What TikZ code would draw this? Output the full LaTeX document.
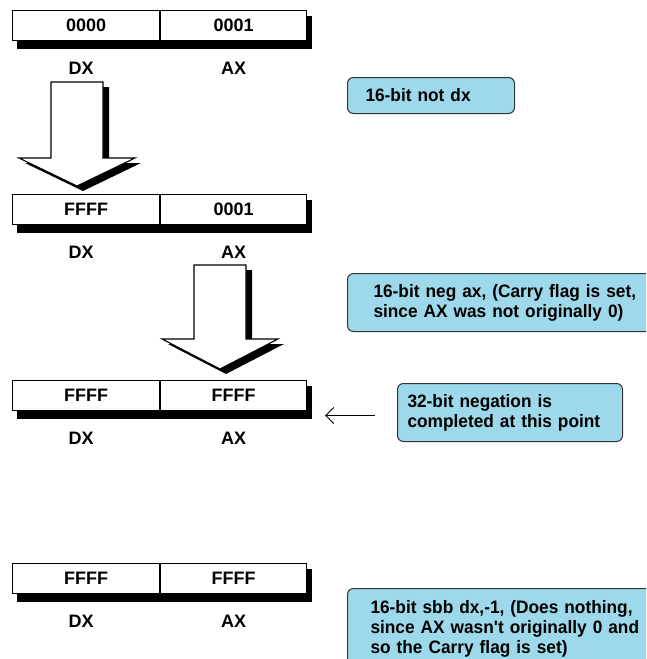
\documentclass[tikz,border=0pt]{standalone}
\usepackage{fontspec}
\setmainfont{Liberation Sans}
\newfontfamily\notefont{Liberation Sans}[FakeStretch=0.96]
\usetikzlibrary{arrows.meta,positioning}
\definecolor{notefill}{HTML}{9DD9EA}
\begin{document}
\begin{tikzpicture}[x=1pt,y=-1pt,font=\fontsize{18}{20}\selectfont\bfseries,
  cell/.style={draw,fill=white,line width=1.1pt,minimum height=30pt,inner sep=0,anchor=north west},
  tag/.style={inner sep=0},
  note/.style={draw=black!80,fill=notefill,rounded corners=6pt,line width=1pt,anchor=north west,align=left,inner ysep=0,minimum height=#1,font=\fontsize{18}{20}\notefont\bfseries},
  blk/.style={draw,fill=white,line width=1.1pt,line join=miter}]
\clip (0,0) rectangle (646,659);
\fill[white] (0,0) rectangle (646,659);
% registers
\foreach \r/\y/\d/\a in {1/10/0000/0001,2/194/FFFF/0001,3/380/FFFF/FFFF,4/563/FFFF/FFFF}{
  \fill (17,\y+6) rectangle (312,\y+39);
  \node[cell,minimum width=147pt](dx\r) at (12,\y){\d};
  \node[cell,minimum width=146pt](ax\r) at (dx\r.north east){\a};
  \node[tag,below=21pt of dx\r,xshift=-5pt](dl\r){DX};
  \node[tag,below=21pt of ax\r](al\r){AX};
}
% block arrows
\foreach \cx/\t/\n/\p in {77/82/158/186,220/265/339/369}{
  \fill[shift={(6,5)}] (\cx-26,\t) -- (\cx+26,\t) -- (\cx+26,\n) -- (\cx+58,\n) -- (\cx,\p) -- (\cx-58,\n) -- (\cx-26,\n) -- cycle;
  \draw[blk] (\cx-26,\t) -- (\cx+26,\t) -- (\cx+26,\n) -- (\cx+58,\n) -- (\cx,\p) -- (\cx-58,\n) -- (\cx-26,\n) -- cycle;
}
% notes
\node[note=36pt,text width=131pt,inner xsep=18pt](c1) at (347,77){16-bit not dx};
\node[note=58pt,text width=290pt,inner xsep=26pt](c2) at (347,273){16-bit neg ax, (Carry flag is set,\\since AX was not originally 0)};
\node[note=58pt,text width=205pt,inner xsep=10pt](c3) at (397,383){32-bit negation is\\completed at this point};
\node[note=80pt,text width=300pt,inner xsep=23pt](c4) at (347,588){16-bit sbb dx,-1, (Does nothing,\\since AX wasn\textquotesingle t originally 0 and\\so the Carry flag is set)};
\draw[-{Straight Barb[length=8pt,width=16pt]},line width=0.8pt,shorten <=22pt,shorten >=18pt] ([yshift=-3pt]c3.west) -- ([yshift=-3pt]c3.west -| ax3.east);
\end{tikzpicture}
\end{document}
